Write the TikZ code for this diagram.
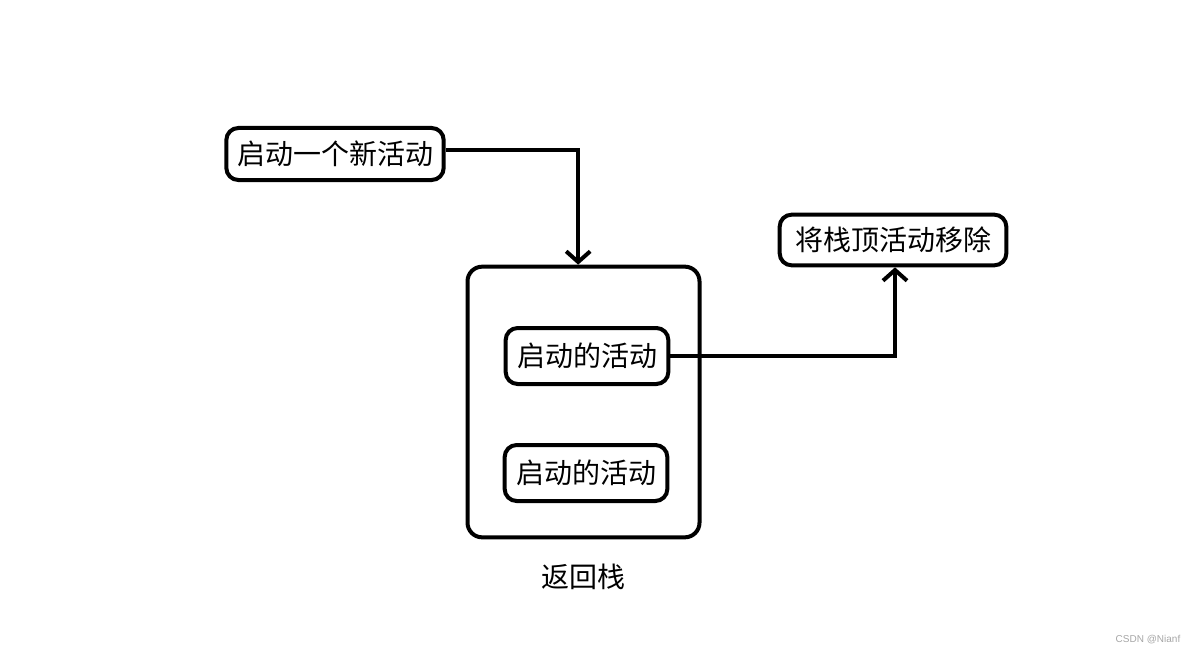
\documentclass[tikz,border=0pt]{standalone}
\usepackage{fontspec}
\usepackage{tikz}
\usetikzlibrary{positioning,arrows.meta}
\newfontfamily\cjk{Noto Sans CJK SC}
\setsansfont{Liberation Sans}

\begin{document}
\begin{tikzpicture}[
    x=0.75pt, y=-0.75pt,
    every node/.style={align=center, font=\cjk\fontsize{21}{25}\selectfont},
    activity/.style={rectangle, draw=black, line width=3pt, rounded corners=9pt, inner sep=2pt},
    stackbox/.style={rectangle, draw=black, line width=3pt, rounded corners=11pt, minimum width=174pt, minimum height=203pt},
    arrow/.style={line width=3pt, -{Straight Barb[length=8pt,width=18pt]}}
]
    \useasboundingbox (0,0) rectangle (1194,656);

    % Start a new activity
    \node[activity, minimum width=163pt, minimum height=39pt] (start) at (335,154) {启动一个新活动};

    % Back stack with its activities
    \node[stackbox] (stack) at (583.5,402) {};
    \node[activity, minimum width=122pt, minimum height=42pt] (top) at (587,356) {启动的活动};
    \node[activity, minimum width=122pt, minimum height=42pt] (bottom) at (586,473) {启动的活动};
    \node[below=15pt of stack] (stacklabel) {返回栈};

    % Remove the top activity
    \node[activity, minimum width=170pt, minimum height=38pt] (remove) at (893,240) {将栈顶活动移除};

    % Draw Arrows
    \draw[arrow] ([yshift=3pt]start.east) -| ([xshift=-4pt]stack.north);
    \draw[arrow] (top.east) -| ([xshift=1.5pt]remove.south);

    % Watermark
    \node[font=\sffamily\fontsize{7.5}{9}\selectfont, text=gray!70] (mark) at (1148,640) {CSDN @Nianf};
\end{tikzpicture}
\end{document}
